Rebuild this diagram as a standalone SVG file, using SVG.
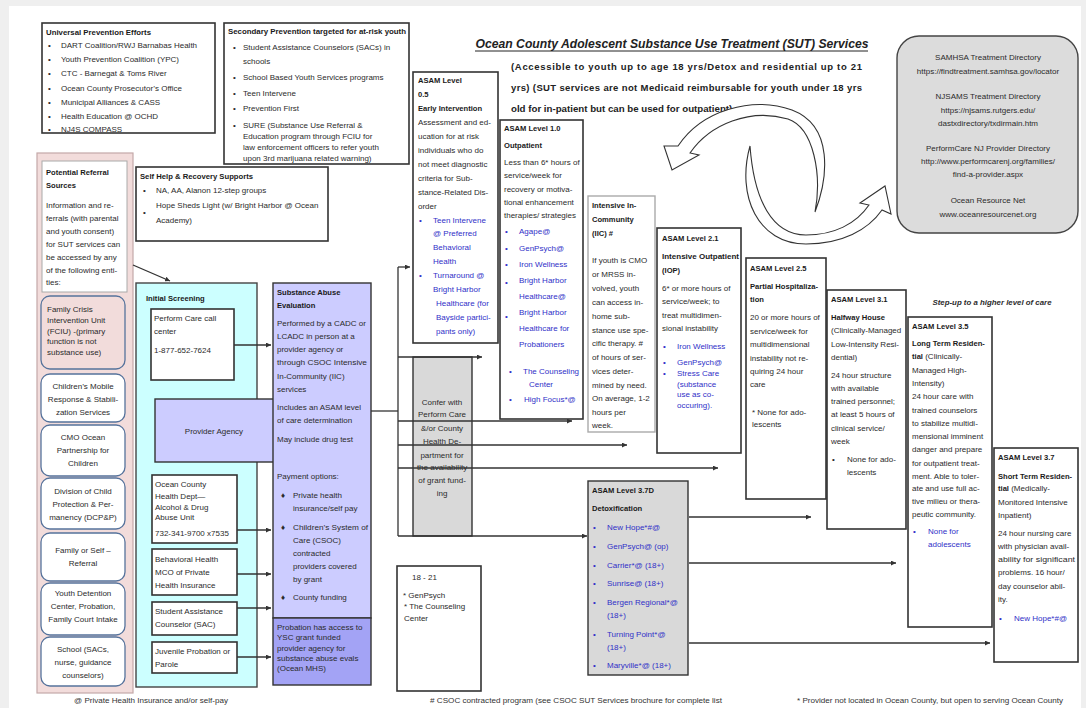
<svg xmlns="http://www.w3.org/2000/svg" width="1086" height="708" viewBox="0 0 1086 708">
<style>
text{font-family:"Liberation Sans",Arial,sans-serif;font-size:8px;fill:#2b2b2b}
.h{font-weight:bold;font-size:7.6px;fill:#1a1a1a}
.bl{fill:#3030c8}
.c{text-anchor:middle}
.box{fill:#fff;stroke:#333;stroke-width:1.6}
.lav{fill:#ccccff;stroke:#333;stroke-width:1.4}
.gry{fill:#d9d9d9;stroke:#333;stroke-width:1.4}
.rnd{stroke:#56739c;stroke-width:1.3}
.conn{stroke:#333;stroke-width:1.3;fill:none}
.ft{font-size:7.5px;fill:#333}
.carr{fill:#fff;stroke:#333;stroke-width:1.1}
</style>
<defs>
<marker id="ah" viewBox="0 0 6 6" refX="6" refY="3" markerWidth="5" markerHeight="5" orient="auto" markerUnits="userSpaceOnUse"><path d="M0,0 L6,3 L0,6 z" fill="#333"/></marker>
</defs>
<rect x="0" y="0" width="1086" height="708" fill="#efefef"/>
<rect x="9" y="6" width="1072" height="702" fill="#fff"/>

<g id="universal">
<rect class="box" x="42" y="23" width="173" height="110"/>
<text class="h" x="46" y="35" textLength="105" lengthAdjust="spacingAndGlyphs">Universal Prevention Efforts</text>
<text x="48" y="48">•</text><text x="61" y="48">DART Coalition/RWJ Barnabas Health</text>
<text x="48" y="62">•</text><text x="61" y="62">Youth Prevention Coalition (YPC)</text>
<text x="48" y="76">•</text><text x="61" y="76">CTC - Barnegat &amp; Toms River</text>
<text x="48" y="91">•</text><text x="61" y="91">Ocean County Prosecutor’s Office</text>
<text x="48" y="105">•</text><text x="61" y="105">Municipal Alliances &amp; CASS</text>
<text x="48" y="119">•</text><text x="61" y="119">Health Education @ OCHD</text>
<text x="48" y="132">•</text><text x="61" y="132">NJ4S COMPASS</text>
</g>

<g id="secondary">
<rect class="box" x="224" y="23" width="185" height="141"/>
<text class="h" x="228" y="34" textLength="178" lengthAdjust="spacingAndGlyphs">Secondary Prevention targeted for at-risk youth</text>
<text x="233" y="50">•</text><text x="243" y="50">Student Assistance Counselors (SACs) in</text>
<text x="243" y="64">schools</text>
<text x="233" y="80">•</text><text x="243" y="80">School Based Youth Services programs</text>
<text x="233" y="96">•</text><text x="243" y="96">Teen Intervene</text>
<text x="233" y="111">•</text><text x="243" y="111">Prevention First</text>
<text x="233" y="128">•</text><text x="243" y="128">SURE (Substance Use Referral &amp;</text>
<text x="243" y="139">Education program through FCIU for</text>
<text x="243" y="150">law enforcement officers to refer youth</text>
<text x="243" y="161">upon 3rd marijuana related warning)</text>
</g>

<g id="title">
<text x="672" y="48" class="c" style="font-weight:bold;font-style:italic;font-size:13.5px;fill:#222" textLength="393" lengthAdjust="spacingAndGlyphs">Ocean County Adolescent Substance Use Treatment (SUT) Services</text>
<line x1="475" y1="51" x2="868" y2="51" stroke="#222" stroke-width="1"/>
<text x="511" y="70" style="font-weight:bold;font-size:9.5px;fill:#222" textLength="351" lengthAdjust="spacing">(Accessible to youth up to age 18 yrs/Detox and residential up to 21</text>
<text x="511" y="91" style="font-weight:bold;font-size:9.5px;fill:#222" textLength="351" lengthAdjust="spacing">yrs) (SUT services are not Medicaid reimbursable for youth under 18 yrs</text>
<text x="511" y="112" style="font-weight:bold;font-size:9.5px;fill:#222" textLength="224" lengthAdjust="spacingAndGlyphs">old for in-patient but can be used for outpatient).</text>
</g>

<g id="directories">
<rect x="897" y="36" width="181" height="197" rx="22" fill="#dcdcdc" stroke="#444" stroke-width="1.4"/>
<text class="c" x="988" y="60">SAMHSA Treatment Directory</text>
<text class="c" x="988" y="74">https://findtreatment.samhsa.gov/locator</text>
<text class="c" x="988" y="99">NJSAMS Treatment Directory</text>
<text class="c" x="988" y="113">https://njsams.rutgers.edu/</text>
<text class="c" x="988" y="126">dastxdirectory/txdirmain.htm</text>
<text class="c" x="988" y="151">PerformCare NJ Provider Directory</text>
<text class="c" x="988" y="164">http://www.performcarenj.org/families/</text>
<text class="c" x="988" y="177">find-a-provider.aspx</text>
<text class="c" x="988" y="203">Ocean Resource Net</text>
<text class="c" x="988" y="217">www.oceanresourcenet.org</text>
</g>

<g id="cycle-arrows">
<path class="carr" d="M 815,212 C 828,178 834,126 792,110 C 752,96 702,110 678,146 L 664,146 L 672,170 L 699,155 L 690,153 C 710,124 750,108 788,119 C 814,128 822,175 815,212 Z"/>
<path class="carr" d="M 750,146 C 736,196 758,244 806,244 C 842,244 868,230 882,210 L 891,214 L 885,186 L 860,203 L 869,205 C 856,224 834,235 806,235 C 772,235 754,200 750,146 Z"/>
</g>

<g id="selfhelp">
<rect class="box" x="136" y="167" width="192" height="74"/>
<text class="h" x="140" y="179" textLength="113" lengthAdjust="spacingAndGlyphs">Self Help &amp; Recovery Supports</text>
<text x="143" y="193">•</text><text x="156" y="193">NA, AA, Alanon 12-step groups</text>
<text x="143" y="215">•</text><text x="156" y="208">Hope Sheds Light (w/ Bright Harbor @ Ocean</text>
<text x="156" y="223">Academy)</text>
</g>

<g id="referral-sources">
<rect x="37" y="153" width="96" height="540" fill="#f2dcdb" stroke="#c4a8a8" stroke-width="1.2"/>
<rect x="42" y="161" width="85" height="131" fill="#fff" stroke="#aaa" stroke-width="1"/>
<text class="h" x="46" y="175">Potential Referral</text>
<text class="h" x="46" y="188">Sources</text>
<text x="46" y="208">Information and re-</text>
<text x="46" y="221">ferrals (with parental</text>
<text x="46" y="234">and youth consent)</text>
<text x="46" y="247">for SUT services can</text>
<text x="46" y="260">be accessed by any</text>
<text x="46" y="273">of the following enti-</text>
<text x="46" y="285">ties:</text>
</g>

<g id="fciu">
<rect class="rnd" x="41" y="296" width="84" height="73" rx="9" fill="#f2dcdb"/>
<text x="47" y="312">Family Crisis</text>
<text x="47" y="323">Intervention Unit</text>
<text x="47" y="334">(FCIU) -(primary</text>
<text x="47" y="344">function is not</text>
<text x="47" y="355">substance use)</text>
</g>
<g id="mobile-response">
<rect class="rnd" x="41" y="374" width="84" height="48" rx="9" fill="#fff"/>
<text class="c" x="83" y="389">Children’s Mobile</text>
<text class="c" x="83" y="402">Response &amp; Stabili-</text>
<text class="c" x="83" y="415">zation Services</text>
</g>
<g id="cmo">
<rect class="rnd" x="41" y="425" width="84" height="51" rx="9" fill="#fff"/>
<text class="c" x="83" y="440">CMO Ocean</text>
<text class="c" x="83" y="453">Partnership for</text>
<text class="c" x="83" y="466">Children</text>
</g>
<g id="dcpp">
<rect class="rnd" x="41" y="478" width="84" height="51" rx="9" fill="#fff"/>
<text class="c" x="83" y="494">Division of Child</text>
<text class="c" x="83" y="507">Protection &amp; Per-</text>
<text class="c" x="83" y="520">manency (DCP&amp;P)</text>
</g>
<g id="family-self">
<rect class="rnd" x="41" y="533" width="84" height="48" rx="9" fill="#fff"/>
<text class="c" x="83" y="553">Family or Self –</text>
<text class="c" x="83" y="566">Referral</text>
</g>
<g id="youth-detention">
<rect class="rnd" x="41" y="583" width="84" height="52" rx="9" fill="#fff"/>
<text class="c" x="83" y="596">Youth Detention</text>
<text class="c" x="83" y="609">Center, Probation,</text>
<text class="c" x="83" y="622">Family Court Intake</text>
</g>
<g id="school">
<rect class="rnd" x="41" y="637" width="84" height="49" rx="9" fill="#fff"/>
<text class="c" x="83" y="652">School (SACs,</text>
<text class="c" x="83" y="665">nurse, guidance</text>
<text class="c" x="83" y="678">counselors)</text>
</g>

<g id="initial-screening">
<rect x="136" y="283" width="121" height="404" fill="#ccffff" stroke="#444" stroke-width="1.4"/>
<text class="h" x="146" y="301">Initial Screening</text>
</g>
<g id="performcare">
<rect class="box" x="151" y="309" width="83" height="71" stroke-width="1.4"/>
<text x="154" y="321">Perform Care call</text>
<text x="154" y="334">center</text>
<text x="154" y="353">1-877-652-7624</text>
</g>
<g id="provider-agency">
<rect class="lav" x="155" y="399" width="119" height="63"/>
<text class="c" x="214" y="434">Provider Agency</text>
</g>
<g id="ochd">
<rect class="box" x="152" y="475" width="85" height="68" stroke-width="1.4"/>
<text x="155" y="487">Ocean County</text>
<text x="155" y="499">Health Dept—</text>
<text x="155" y="510">Alcohol &amp; Drug</text>
<text x="155" y="520">Abuse Unit</text>
<text x="155" y="536">732-341-9700 x7535</text>
</g>
<g id="mco">
<rect class="box" x="152" y="549" width="85" height="46" stroke-width="1.4"/>
<text x="155" y="562">Behavioral Health</text>
<text x="155" y="575">MCO of Private</text>
<text x="155" y="588">Health Insurance</text>
</g>
<g id="sac">
<rect class="box" x="152" y="602" width="85" height="33" stroke-width="1.4"/>
<text x="155" y="614">Student Assistance</text>
<text x="155" y="627">Counselor (SAC)</text>
</g>
<g id="juvenile">
<rect class="box" x="152" y="642" width="85" height="31" stroke-width="1.4"/>
<text x="155" y="654">Juvenile Probation or</text>
<text x="155" y="667">Parole</text>
</g>

<g id="sae">
<rect class="lav" x="273" y="283" width="98" height="335"/>
<text class="h" x="277" y="295">Substance Abuse</text>
<text class="h" x="277" y="308">Evaluation</text>
<text x="277" y="326">Performed by a CADC or</text>
<text x="277" y="339">LCADC in person at a</text>
<text x="277" y="352">provider agency or</text>
<text x="277" y="365" textLength="90" lengthAdjust="spacingAndGlyphs">through CSOC Intensive</text>
<text x="277" y="379">In-Community (IIC)</text>
<text x="277" y="392">services</text>
<text x="277" y="410">Includes an ASAM level</text>
<text x="277" y="423">of care determination</text>
<text x="277" y="442">May include drug test</text>
<text x="277" y="479">Payment options:</text>
<text x="281" y="498">♦</text><text x="293" y="498">Private health</text>
<text x="293" y="511">insurance/self pay</text>
<text x="281" y="530">♦</text><text x="293" y="530" textLength="75" lengthAdjust="spacingAndGlyphs">Children’s System of</text>
<text x="293" y="543">Care (CSOC)</text>
<text x="293" y="556">contracted</text>
<text x="293" y="569">providers covered</text>
<text x="293" y="582">by grant</text>
<text x="281" y="600">♦</text><text x="293" y="600">County funding</text>
</g>
<g id="probation">
<rect x="273" y="618" width="98" height="67" fill="#a3a3f5" stroke="#333" stroke-width="1.4"/>
<text x="277" y="630">Probation has access to</text>
<text x="277" y="640">YSC grant funded</text>
<text x="277" y="651">provider agency for</text>
<text x="277" y="661">substance abuse evals</text>
<text x="277" y="671">(Ocean MHS)</text>
</g>

<g id="confer">
<rect class="gry" x="413" y="357" width="59" height="179"/>
<text class="c" x="442" y="405">Confer with</text>
<text class="c" x="442" y="417">Perform Care</text>
<text class="c" x="442" y="431">&amp;/or County</text>
<text class="c" x="442" y="444">Health De-</text>
<text class="c" x="442" y="458">partment for</text>
<text class="c" x="442" y="470">the availability</text>
<text class="c" x="442" y="483">of grant fund-</text>
<text class="c" x="442" y="496">ing</text>
</g>

<g id="asam-05">
<rect class="box" x="413" y="72" width="85" height="271"/>
<text class="h" x="418" y="83">ASAM Level</text>
<text class="h" x="418" y="97">0.5</text>
<text class="h" x="418" y="111">Early Intervention</text>
<text x="418" y="125">Assessment and ed-</text>
<text x="418" y="139">ucation for at risk</text>
<text x="418" y="153">individuals who do</text>
<text x="418" y="167">not meet diagnostic</text>
<text x="418" y="181">criteria for Sub-</text>
<text x="418" y="195">stance-Related Dis-</text>
<text x="418" y="209">order</text>
<text class="bl" x="419" y="223">•</text><text class="bl" x="433" y="223">Teen Intervene</text>
<text class="bl" x="433" y="236">@ Preferred</text>
<text class="bl" x="433" y="250">Behavioral</text>
<text class="bl" x="433" y="264">Health</text>
<text class="bl" x="419" y="278">•</text><text class="bl" x="433" y="278">Turnaround @</text>
<text class="bl" x="433" y="292">Bright Harbor</text>
<text class="bl" x="436" y="306">Healthcare (for</text>
<text class="bl" x="436" y="320">Bayside partici-</text>
<text class="bl" x="436" y="334">pants only)</text>
</g>

<g id="asam-10">
<rect class="box" x="500" y="120" width="83" height="299"/>
<text class="h" x="504" y="131">ASAM Level 1.0</text>
<text class="h" x="504" y="148">Outpatient</text>
<text x="504" y="165">Less than 6* hours of</text>
<text x="504" y="178">service/week for</text>
<text x="504" y="192">recovery or motiva-</text>
<text x="504" y="205">tional enhancement</text>
<text x="504" y="218">therapies/ strategies</text>
<text class="bl" x="505" y="234">•</text><text class="bl" x="519" y="234">Agape@</text>
<text class="bl" x="505" y="251">•</text><text class="bl" x="519" y="251">GenPsych@</text>
<text class="bl" x="505" y="267">•</text><text class="bl" x="519" y="267">Iron Wellness</text>
<text class="bl" x="505" y="285">•</text><text class="bl" x="519" y="283">Bright Harbor</text>
<text class="bl" x="519" y="299">Healthcare@</text>
<text class="bl" x="505" y="319">•</text><text class="bl" x="519" y="315">Bright Harbor</text>
<text class="bl" x="519" y="331">Healthcare for</text>
<text class="bl" x="519" y="347">Probationers</text>
<text class="bl" x="509" y="374">•</text><text class="bl" x="523" y="374">The Counseling</text>
<text class="bl" x="529" y="387">Center</text>
<text class="bl" x="509" y="402">•</text><text class="bl" x="524" y="402">High Focus*@</text>
</g>

<g id="iic">
<rect x="588" y="196" width="67" height="236" fill="#fff" stroke="#aaa" stroke-width="1.4"/>
<text class="h" x="592" y="208">Intensive In-</text>
<text class="h" x="592" y="222">Community</text>
<text class="h" x="592" y="236">(IIC) #</text>
<text x="592" y="263">If youth is  CMO</text>
<text x="592" y="277">or MRSS in-</text>
<text x="592" y="291">volved, youth</text>
<text x="592" y="305">can access in-</text>
<text x="592" y="319">home sub-</text>
<text x="592" y="333">stance use spe-</text>
<text x="592" y="346">cific therapy.  #</text>
<text x="592" y="360">of hours of ser-</text>
<text x="592" y="374">vices deter-</text>
<text x="592" y="388">mined by need.</text>
<text x="592" y="401">On average, 1-2</text>
<text x="592" y="415">hours per</text>
<text x="592" y="428">week.</text>
</g>

<g id="asam-21">
<rect class="box" x="657" y="228" width="84" height="225"/>
<text class="h" x="662" y="241">ASAM Level 2.1</text>
<text class="h" x="662" y="259" textLength="77" lengthAdjust="spacingAndGlyphs">Intensive Outpatient</text>
<text class="h" x="662" y="273">(IOP)</text>
<text x="662" y="291">6* or more hours of</text>
<text x="662" y="304">service/week; to</text>
<text x="662" y="318">treat multidimen-</text>
<text x="662" y="331">sional instability</text>
<text class="bl" x="663" y="349">•</text><text class="bl" x="677" y="349">Iron Wellness</text>
<text class="bl" x="663" y="365">•</text><text class="bl" x="677" y="365">GenPsych@</text>
<text class="bl" x="663" y="376">•</text><text class="bl" x="677" y="376">Stress Care</text>
<text class="bl" x="677" y="387">(substance</text>
<text class="bl" x="677" y="397">use as co-</text>
<text class="bl" x="677" y="408">occuring).</text>
</g>

<g id="asam-25">
<rect class="box" x="746" y="258" width="80" height="241"/>
<text class="h" x="750" y="271">ASAM Level 2.5</text>
<text class="h" x="750" y="289">Partial Hospitaliza-</text>
<text class="h" x="750" y="302">tion</text>
<text x="750" y="320">20 or more hours of</text>
<text x="750" y="334">service/week for</text>
<text x="750" y="347">multidimensional</text>
<text x="750" y="361">instability not re-</text>
<text x="750" y="374">quiring 24 hour</text>
<text x="750" y="387">care</text>
<text x="752" y="415">* None for ado-</text>
<text x="752" y="427">lescents</text>
</g>

<g id="asam-31">
<rect class="box" x="827" y="290" width="79" height="239"/>
<text class="h" x="831" y="302">ASAM Level 3.1</text>
<text class="h" x="831" y="320">Halfway House</text>
<text x="831" y="333">(Clinically-Managed</text>
<text x="831" y="347">Low-Intensity Resi-</text>
<text x="831" y="360">dential)</text>
<text x="831" y="378">24 hour structure</text>
<text x="831" y="391">with available</text>
<text x="831" y="404">trained personnel;</text>
<text x="831" y="417">at least 5 hours of</text>
<text x="831" y="431">clinical service/</text>
<text x="831" y="444">week</text>
<text x="832" y="462">•</text><text x="847" y="462">None for ado-</text>
<text x="847" y="475">lescents</text>
</g>

<g id="step-up">
<text class="c" x="992" y="305" style="font-weight:bold;font-style:italic;font-size:7.8px" textLength="119" lengthAdjust="spacingAndGlyphs">Step-up to a higher level of care</text>
</g>

<g id="asam-35">
<rect class="box" x="908" y="317" width="84" height="310"/>
<text class="h" x="912" y="329">ASAM Level 3.5</text>
<text class="h" x="912" y="346">Long Term Residen-</text>
<text x="912" y="359"><tspan class="h">tial</tspan> (Clinically-</text>
<text x="912" y="373">Managed High-</text>
<text x="912" y="386">Intensity)</text>
<text x="912" y="399">24 hour care with</text>
<text x="912" y="413">trained counselors</text>
<text x="912" y="426">to stabilize multidi-</text>
<text x="912" y="439">mensional imminent</text>
<text x="912" y="452">danger and prepare</text>
<text x="912" y="466">for outpatient treat-</text>
<text x="912" y="479">ment. Able to toler-</text>
<text x="912" y="491">ate and use full ac-</text>
<text x="912" y="504">tive milieu or thera-</text>
<text x="912" y="517">peutic community.</text>
<text class="bl" x="913" y="534">•</text><text class="bl" x="928" y="534">None for</text>
<text class="bl" x="928" y="547">adolescents</text>
</g>

<g id="asam-37">
<rect class="box" x="994" y="448" width="84" height="214"/>
<text class="h" x="998" y="460">ASAM Level 3.7</text>
<text class="h" x="998" y="479">Short Term Residen-</text>
<text x="998" y="491"><tspan class="h">tial</tspan> (Medically-</text>
<text x="998" y="505">Monitored Intensive</text>
<text x="998" y="518">Inpatient)</text>
<text x="998" y="536">24 hour nursing care</text>
<text x="998" y="549">with physician avail-</text>
<text x="998" y="562" textLength="77" lengthAdjust="spacingAndGlyphs">ability for significant</text>
<text x="998" y="575">problems. 16 hour/</text>
<text x="998" y="589">day counselor abil-</text>
<text x="998" y="602">ity.</text>
<text class="bl" x="999" y="621">•</text><text class="bl" x="1014" y="621">New Hope*#@</text>
</g>

<g id="detox">
<rect class="gry" x="588" y="481" width="100" height="194"/>
<text class="h" x="592" y="493">ASAM Level 3.7D</text>
<text class="h" x="592" y="511">Detoxification</text>
<text class="bl" x="593" y="530">•</text><text class="bl" x="607" y="530">New Hope*#@</text>
<text class="bl" x="593" y="549">•</text><text class="bl" x="607" y="549">GenPsych@ (op)</text>
<text class="bl" x="593" y="568">•</text><text class="bl" x="607" y="568">Carrier*@ (18+)</text>
<text class="bl" x="593" y="586">•</text><text class="bl" x="607" y="586">Sunrise@ (18+)</text>
<text class="bl" x="593" y="605">•</text><text class="bl" x="607" y="605">Bergen Regional*@</text>
<text class="bl" x="607" y="618">(18+)</text>
<text class="bl" x="593" y="637">•</text><text class="bl" x="607" y="637">Turning Point*@</text>
<text class="bl" x="607" y="650">(18+)</text>
<text class="bl" x="593" y="668">•</text><text class="bl" x="607" y="668">Maryville*@ (18+)</text>
</g>

<g id="age-18-21">
<rect class="box" x="397" y="566" width="84" height="125" stroke-width="1.3"/>
<text x="412" y="580">18 - 21</text>
<text x="403" y="598">* GenPsych</text>
<text x="404" y="609">* The Counseling</text>
<text x="404" y="621">Center</text>
</g>

<g id="connectors">
<line class="conn" x1="133" y1="265" x2="170" y2="281" marker-end="url(#ah)"/>
<line class="conn" x1="234" y1="345" x2="271" y2="345" marker-end="url(#ah)"/>
<line class="conn" x1="237" y1="530" x2="271" y2="530" marker-end="url(#ah)"/>
<line class="conn" x1="237" y1="574" x2="271" y2="574" marker-end="url(#ah)"/>
<line class="conn" x1="237" y1="608" x2="271" y2="608" marker-end="url(#ah)"/>
<line class="conn" x1="237" y1="657" x2="271" y2="657" marker-end="url(#ah)"/>
<line class="conn" x1="371" y1="411" x2="398" y2="411"/>
<line class="conn" x1="398" y1="267" x2="398" y2="536"/>
<line class="conn" x1="398" y1="267" x2="410" y2="267" marker-end="url(#ah)"/>
<line class="conn" x1="398" y1="357" x2="482" y2="357" marker-end="url(#ah)"/>
<line class="conn" x1="398" y1="421" x2="572" y2="421" marker-end="url(#ah)"/>
<line class="conn" x1="398" y1="445" x2="627" y2="445" marker-end="url(#ah)"/>
<line class="conn" x1="398" y1="468" x2="718" y2="468" marker-end="url(#ah)"/>
<line class="conn" x1="398" y1="536" x2="587" y2="536" marker-end="url(#ah)"/>
<line class="conn" x1="689" y1="517" x2="811" y2="517" marker-end="url(#ah)"/>
<line class="conn" x1="689" y1="563" x2="896" y2="563" marker-end="url(#ah)"/>
<line class="conn" x1="689" y1="643" x2="990" y2="643" marker-end="url(#ah)"/>
</g>

<g id="footnotes">
<text class="ft" x="74" y="703" textLength="154" lengthAdjust="spacingAndGlyphs">@ Private Health Insurance and/or self-pay</text>
<text class="ft" x="430" y="703" textLength="292" lengthAdjust="spacingAndGlyphs"># CSOC contracted program (see CSOC SUT Services brochure for complete list</text>
<text class="ft" x="797" y="703" textLength="266" lengthAdjust="spacingAndGlyphs">* Provider not located in Ocean County, but open to serving Ocean County</text>
</g>
</svg>
